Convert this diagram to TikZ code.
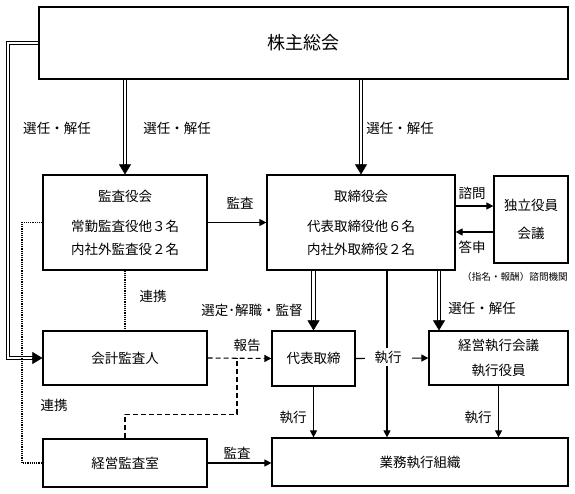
\documentclass[tikz,border=0pt]{standalone}
\usepackage{fontspec}
\setmainfont{Noto Sans CJK JP}
\usetikzlibrary{arrows.meta,calc}
\begin{document}
\begin{tikzpicture}[x=1pt,y=-1pt,
  box/.style={draw,line width=1.2pt,rectangle,inner sep=0pt,align=center,font=\fontsize{13.5}{23}\selectfont},
  lbl/.style={inner sep=1pt,font=\fontsize{13.5}{16}\selectfont},
  small/.style={inner sep=0pt,font=\fontsize{9.6}{11}\selectfont},
  conn/.style={line width=1.1pt},
  arr/.style={conn,-{Triangle[length=7pt,width=7pt]}},
  dblline/.style={line width=0.9pt,double=white,double distance=2.4pt,shorten >=8pt},
  bigtip/.style={line width=0.5pt,-{Triangle[length=10pt,width=12pt]}},
  dsh/.style={conn,dash pattern=on 5pt off 3pt},
  dot/.style={line width=1.3pt,dash pattern=on 1.2pt off 1pt},
]
\useasboundingbox (0,0) rectangle (575,494);
% boxes
\node[box,minimum width=529pt,minimum height=72pt,font=\fontsize{18}{20}\selectfont] (gm) at (303.5,43) {株主総会};
\node[box,minimum width=164pt,minimum height=95pt] (kansa) at (125,222.5) {監査役会\\[7pt]常勤監査役他３名\\内社外監査役２名};
\node[box,minimum width=188pt,minimum height=95pt] (tori) at (361,222.5) {取締役会\\[7pt]代表取締役他６名\\内社外取締役２名};
\node[box,minimum width=74pt,minimum height=87pt,font=\fontsize{13.5}{28}\selectfont] (dok) at (531,219.5) {独立役員\\会議};
\node[box,minimum width=164pt,minimum height=54pt] (kaikei) at (125,358) {会計監査人};
\node[box,minimum width=83pt,minimum height=55pt] (daihyo) at (313.5,358.5) {代表取締};
\node[box,minimum width=139pt,minimum height=54pt,font=\fontsize{13.5}{25}\selectfont] (keiei) at (498.5,358) {経営執行会議\\執行役員};
\node[box,minimum width=164pt,minimum height=48pt] (kanshitsu) at (125,463) {経営監査室};
\node[box,minimum width=296pt,minimum height=48pt] (gyomu) at (420,462) {業務執行組織};
% helper coordinates
\coordinate (kx) at (439,0);
\coordinate (gx) at (387,0);
\coordinate (q1) at (0,206);
\coordinate (q2) at (0,232);
\coordinate (lx) at (8,0);
\coordinate (dx) at (22,0);
\coordinate (rj) at (237,0);
% double arrows (shaft + tip)
\draw[dblline] (gm.south -| kansa.north) -- (kansa.north);
\draw[bigtip] ([yshift=10pt]kansa.north) -- (kansa.north);
\draw[dblline] (gm.south -| tori.north) -- (tori.north);
\draw[bigtip] ([yshift=10pt]tori.north) -- (tori.north);
\draw[dblline] (tori.south -| daihyo.north) -- (daihyo.north);
\draw[bigtip] ([yshift=10pt]daihyo.north) -- (daihyo.north);
\draw[dblline] (kx |- tori.south) -- (kx |- keiei.north);
\draw[bigtip] ([yshift=10pt]kx |- keiei.north) -- (kx |- keiei.north);
\draw[dblline] (gm.west) -- (lx |- gm.west) |- (kaikei.west);
\draw[bigtip] ([xshift=-10pt]kaikei.west) -- (kaikei.west);
% single arrows
\draw[arr] (gx |- tori.south) -- (gx |- gyomu.north);
\draw[arr] (daihyo.south) -- (daihyo.south |- gyomu.north);
\draw[arr] (keiei.south) -- (keiei.south |- gyomu.north);
\draw[arr] (daihyo.east) -- (keiei.west);
\draw[arr] (kansa.east) -- (tori.west);
\draw[arr] (tori.east |- q1) -- (dok.west |- q1);
\draw[arr] (dok.west |- q2) -- (tori.east |- q2);
\draw[arr] (kanshitsu.east) -- (kanshitsu.east -| gyomu.west);
% dotted
\draw[dot] (kansa.west) -- (dx |- kansa.west) |- (kanshitsu.west);
\draw[dot] (kansa.south) -- (kaikei.north);
% dashed
\draw[dsh,-{Triangle[length=7pt,width=7pt]}] (kaikei.east) -- (daihyo.west);
\draw[dsh] (kanshitsu.north) -- ++(0,-24) -| (rj |- kaikei.east);
% labels
\node[lbl,fill=white,inner xsep=10pt,inner ysep=3pt] (ex) at (388,357) {執行};
\node[lbl] (l1) at (57,128) {選任・解任};
\node[lbl] (l2) at (177,128) {選任・解任};
\node[lbl] (l3) at (400,128) {選任・解任};
\node[lbl] (l4) at (240,203) {監査};
\node[lbl] (l5) at (472,193) {諮問};
\node[lbl] (l6) at (472,247) {答申};
\node[small,anchor=east] (l7) at (568,277) {（指名・報酬）諮問機関};
\node[lbl] (l8) at (153,296) {連携};
\node[lbl] (l9) at (252,310) {選定･解職・監督};
\node[lbl] (l10) at (482,308) {選任・解任};
\node[lbl] (l11) at (247,345) {報告};
\node[lbl] (l12) at (54,405) {連携};
\node[lbl] (l13) at (293,417) {執行};
\node[lbl] (l14) at (478,417) {執行};
\node[lbl] (l15) at (237,453) {監査};
\end{tikzpicture}
\end{document}
